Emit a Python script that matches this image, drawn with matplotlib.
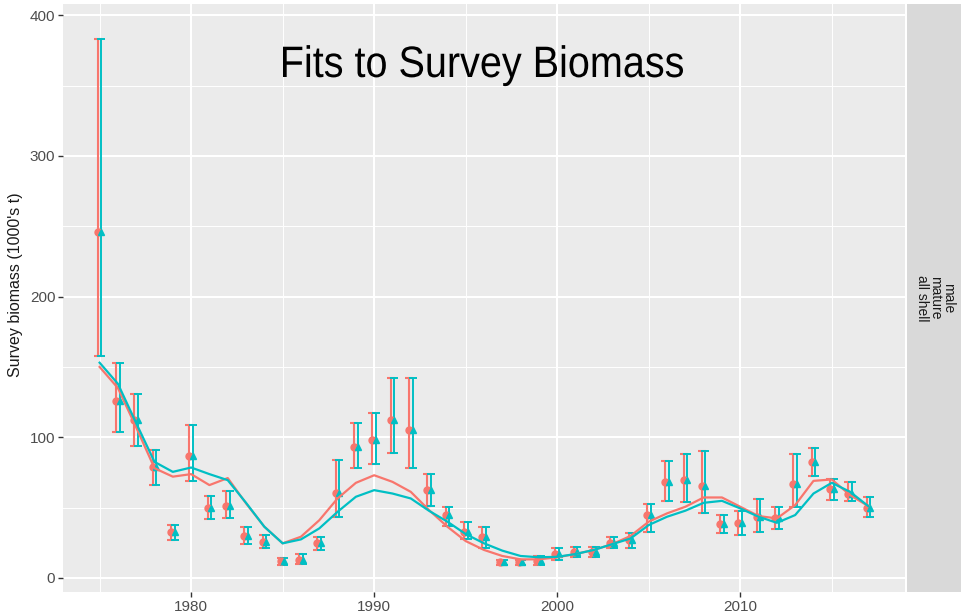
import matplotlib.pyplot as plt
import numpy as np
from matplotlib.textpath import TextPath
from matplotlib.patches import PathPatch
from matplotlib.font_manager import FontProperties
from matplotlib.transforms import Affine2D

# survey years
years = np.arange(1975, 2018)

# observed survey biomass (1000's t) with lower / upper interval bounds
obs = [246, 126, 112, 79, 33, 86.5, 50, 51, 30, 25.3, 12, 12.8, 24.6, 60.5, 93,
       98, 112.5, 105, 62.4, 44.7, 33, 29.3, 11, 11, 12.3, 17, 18.7, 18.4, 25, 27,
       44.7, 68, 69.5, 65, 38.3, 38.8, 43.5, 42.3, 66.7, 82.5, 62.9, 60, 49.4]
obs_lo = [158, 104, 94, 66, 27, 69, 41.6, 42.3, 24, 21, 9.5, 10, 20, 43.5, 78.5,
          81, 89, 78.5, 51, 36.9, 27.4, 21, 9.2, 9.2, 9.2, 12.8, 15, 15, 21, 21.5,
          33, 55, 54, 46, 31.7, 30.5, 33, 34.5, 50.6, 72.3, 55.3, 54.8, 43]
obs_hi = [383, 153, 131, 91, 37.6, 109, 58, 61.7, 36, 30.5, 14.5, 17, 29, 84, 110,
          117, 142, 142, 74, 50.6, 40, 36.4, 12.8, 12.8, 15.6, 21, 22.2, 21.7, 29.3, 31.7,
          52.5, 83, 88.4, 90, 44.7, 47.8, 55.8, 50.6, 88, 92.7, 70, 68.3, 57.2]

# model fits
fit_a = [150, 135, 107, 78, 72, 73.8, 66, 71, 53, 36.4, 24.6, 29.3, 41, 56.5, 67.6,
         73, 68.3, 61.2, 48.2, 36.4, 26.2, 19.9, 15.6, 13.2, 13.2, 14.7, 17, 19.9, 24, 29.8,
         40, 45.9, 50.6, 57.2, 57.2, 50.6, 44, 42.3, 51.8, 69, 70, 58.9, 51]
fit_b = [153, 138, 110, 82.5, 75.4, 78.5, 73.8, 69.5, 53.4, 36.4, 24.6, 27.4, 35.2, 47, 57.7,
         62.4, 60, 56.5, 47.7, 40, 31.2, 24.6, 19.4, 15.6, 14.7, 15, 17, 19.9, 24, 28,
         37.6, 43.5, 47.8, 53.4, 54.8, 49.4, 43.5, 39.2, 44.7, 60, 67.6, 61.2, 51]

red = '#F8766D'
teal = '#00BFC4'

W, H = 961, 613
fig = plt.figure(figsize=(W / 100, H / 100), dpi=100)
ax = fig.add_axes([63 / W, 1 - 592 / H, (905 - 63) / W, (592 - 4) / H])
strip = fig.add_axes([907 / W, 1 - 592 / H, 70 / W, (592 - 4) / H])

ax.set_facecolor('#EBEBEB')
for s in ax.spines.values():
    s.set_visible(False)
ax.set_xlim(1973.0, 2019.0)
ax.set_ylim(-10, 408)
ax.set_xticks([1980, 1990, 2000, 2010])
ax.set_xticks([1975, 1985, 1995, 2005, 2015], minor=True)
ax.set_yticks([0, 100, 200, 300, 400])
ax.set_yticks([50, 150, 250, 350], minor=True)
ax.grid(which='major', color='white', lw=1.5)
ax.grid(which='minor', color='white', lw=0.7)
ax.set_axisbelow(True)
ax.tick_params(which='major', length=3.5, width=1, color='#333333',
               labelcolor='#4D4D4D', labelsize=11, pad=2)
ax.tick_params(which='minor', length=0)
for lab in ax.get_xticklabels() + ax.get_yticklabels():
    lab.set_family('Liberation Sans')

# observed values with intervals, drawn twice with a slight dodge
x = years.astype(float)
err = [np.array(obs) - np.array(obs_lo), np.array(obs_hi) - np.array(obs)]
ax.errorbar(x - 0.1, obs, yerr=err, fmt='o', color=red, ms=5, elinewidth=1.5,
            capsize=3, capthick=1.5, zorder=3)
ax.errorbar(x + 0.1, obs, yerr=err, fmt='^', color=teal, ms=5, elinewidth=1.4,
            capsize=3, capthick=1.4, zorder=3)

ax.plot(years, fit_a, color=red, lw=1.6, zorder=4)
ax.plot(years, fit_b, color=teal, lw=1.6, zorder=4)

ax.set_ylabel("Survey biomass (1000's t)", fontsize=11.5, color='#1A1A1A',
              family='Liberation Sans')
ax.yaxis.set_label_coords(-0.0475, 0.522)

# title in a condensed sans: glyph outlines squeezed horizontally
tp = TextPath((0, 0), 'Fits to Survey Biomass', size=44,
              prop=FontProperties(family='Liberation Sans'))
bb = tp.get_extents()
sx = 400 / bb.width
trans = Affine2D().translate(-bb.x0, 0).scale(sx, 1).translate(283, H - 77)
title = PathPatch(trans.transform_path(tp), facecolor='black', edgecolor='none',
                  transform=None)
fig.patches.append(title)

# facet strip
strip.set_facecolor('#D9D9D9')
strip.set_xticks([])
strip.set_yticks([])
for s in strip.spines.values():
    s.set_visible(False)
strip.text(28 / 70, 0.5, 'male\nmature\nall shell', rotation=-90, ha='center', va='center',
           multialignment='center', fontsize=10, color='#1A1A1A', linespacing=0.9,
           family='Liberation Sans', transform=strip.transAxes)

fig.savefig('out.png', dpi=100)
